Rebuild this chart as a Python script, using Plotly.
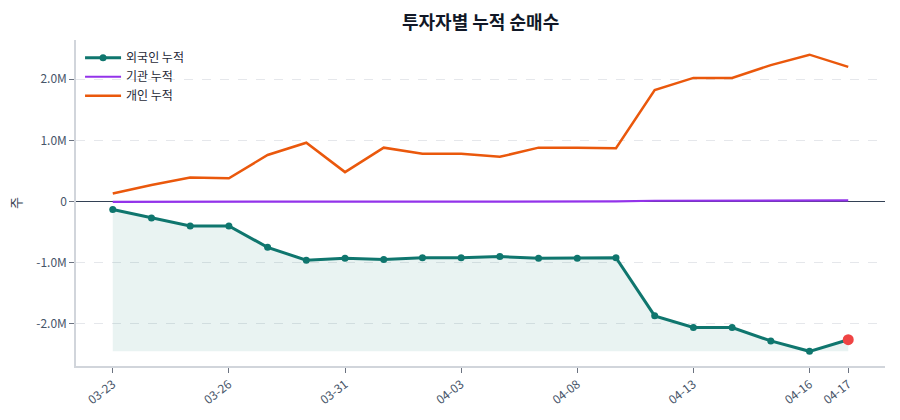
import plotly.graph_objects as go

dates = ["03-23", "03-24", "03-25", "03-26", "03-27", "03-30", "03-31", "04-01", "04-02", "04-03",
         "04-06", "04-07", "04-08", "04-09", "04-10", "04-13", "04-14", "04-15", "04-16", "04-17"]
foreign = [-0.13, -0.27, -0.40, -0.40, -0.75, -0.96, -0.93, -0.95, -0.92, -0.92,
           -0.90, -0.93, -0.93, -0.92, -1.87, -2.06, -2.06, -2.28, -2.45, -2.26]
institution = [-0.005, -0.005, -0.004, -0.004, -0.003, -0.003, -0.003, -0.002, -0.002, -0.002,
               -0.001, -0.001, 0.0, 0.0, 0.012, 0.015, 0.016, 0.017, 0.018, 0.018]
individual = [0.13, 0.27, 0.39, 0.38, 0.76, 0.96, 0.48, 0.88, 0.78, 0.78,
              0.73, 0.88, 0.88, 0.87, 1.82, 2.02, 2.02, 2.23, 2.40, 2.20]
tick_labels = ["03-23", "03-26", "03-31", "04-03", "04-08", "04-13", "04-16", "04-17"]

scale = 1_000_000
f_vals = [v * scale for v in foreign]
i_vals = [v * scale for v in institution]
p_vals = [v * scale for v in individual]
base = min(f_vals)

TEAL = "#0f766e"
PURPLE = "#9333ea"
ORANGE = "#ea580c"
FONT = "Noto Sans CJK KR"

fig = go.Figure()
fig.add_trace(go.Scatter(x=dates, y=[base] * len(dates), mode="lines",
                         line=dict(width=0), showlegend=False, hoverinfo="skip"))
fig.add_trace(go.Scatter(x=dates, y=f_vals, mode="lines", line=dict(width=0),
                         fill="tonexty", fillcolor="rgba(15,118,110,0.09)",
                         showlegend=False, hoverinfo="skip"))
fig.add_trace(go.Scatter(x=dates, y=f_vals, mode="lines+markers", name="외국인 누적",
                         line=dict(color=TEAL, width=3), marker=dict(size=7, color=TEAL)))
fig.add_trace(go.Scatter(x=dates, y=i_vals, mode="lines", name="기관 누적",
                         line=dict(color=PURPLE, width=2.2)))
fig.add_trace(go.Scatter(x=dates, y=p_vals, mode="lines", name="개인 누적",
                         line=dict(color=ORANGE, width=2.5)))
fig.add_trace(go.Scatter(x=[dates[-1]], y=[f_vals[-1]], mode="markers", showlegend=False,
                         marker=dict(size=11, color="#ef4444")))

fig.update_layout(
    width=900, height=420,
    margin=dict(l=76, r=15, t=40, b=54),
    paper_bgcolor="white", plot_bgcolor="white",
    font=dict(family=FONT, size=12, color="#475569"),
    title=dict(text="<b>투자자별 누적 순매수</b>", x=0.534, xanchor="center", y=0.945,
               yanchor="middle", font=dict(size=18, color="#111827", family=FONT)),
    legend=dict(x=0.005, y=0.99, xanchor="left", yanchor="top", traceorder="normal",
                bgcolor="rgba(255,255,255,0)", font=dict(size=12, color="#1f2937"),
                itemwidth=36, tracegroupgap=0),
    showlegend=True,
)
fig.update_xaxes(
    type="category", range=[-0.95, 19.95],
    tickmode="array", tickvals=tick_labels, ticktext=tick_labels,
    tickangle=-38, ticks="outside", ticklen=5, tickcolor="#6b7280",
    showline=True, linecolor="#d1d5db", linewidth=1.5, showgrid=False,
    tickfont=dict(size=12, color="#475569"),
)
fig.update_yaxes(
    range=[-2.69e6, 2.64e6],
    tickmode="array", tickvals=[-2e6, -1e6, 0, 1e6, 2e6],
    ticktext=["-2.0M", "-1.0M", "0", "1.0M", "2.0M"],
    ticks="outside", ticklen=5, tickcolor="#6b7280",
    showline=True, linecolor="#d1d5db", linewidth=1.5,
    showgrid=True, gridcolor="#e5e7eb", griddash="dash", gridwidth=1,
    zeroline=True, zerolinecolor="#334155", zerolinewidth=1.3,
    title=dict(text="주", font=dict(size=13, color="#374151"), standoff=12),
    tickfont=dict(size=12, color="#475569"),
)

fig.write_html("out.html")
